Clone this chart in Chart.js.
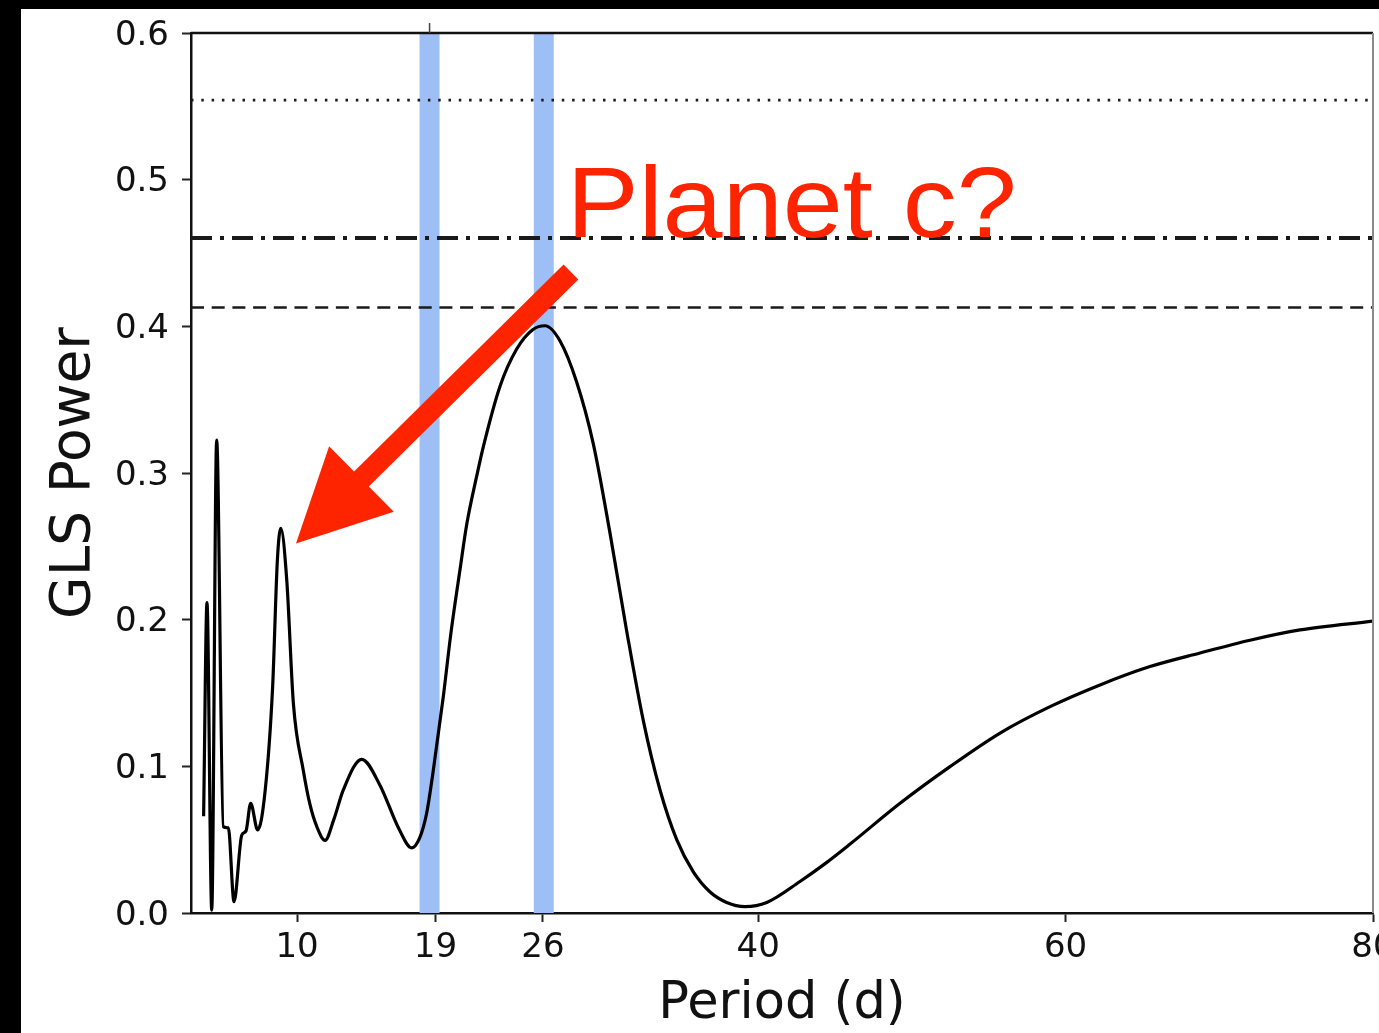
<!DOCTYPE html>
<html><head><meta charset="utf-8">
<script src="https://cdn.jsdelivr.net/npm/chart.js@4.4.1/dist/chart.umd.min.js"></script>
<style>
html,body{margin:0;padding:0;background:#000;overflow:hidden;width:1379px;height:1033px;}
#frame{position:absolute;left:21px;top:9px;width:1400px;height:1024px;background:#fff;}
canvas{display:block;}
</style></head><body>
<div id="frame"><canvas id="c" width="1400" height="1024"></canvas></div>
<script>
// ---- data ----
const periods = [3.92,4.14,4.45,4.77,5.20,5.53,5.90,6.40,6.68,6.98,7.44,7.93,8.41,8.72,8.94,9.33,9.76,10.41,10.84,11.28,11.82,12.4,13.01,14.21,15.40,16.6,17.46,17.97,18.43,18.86,19.52,20.0,20.6,21.04,21.69,22.12,23.20,24.29,25.37,26.13,27.11,28.19,29.27,30.36,31.45,32.53,33.61,34.70,35.78,36.87,37.95,39.14,40.56,42.72,44.4,45.98,49.23,52.48,55.74,58.99,62.24,65.49,68.75,72.0,75.25,80.0];
const glsPower = [0.066,0.2116,0.002,0.3225,0.0589,0.058,0.0077,0.053,0.056,0.0748,0.0566,0.0839,0.154,0.2407,0.2623,0.227,0.143,0.097,0.074,0.059,0.0495,0.064,0.0839,0.1048,0.087,0.058,0.0444,0.051,0.068,0.097,0.148,0.19,0.234,0.265,0.298,0.318,0.359,0.3845,0.398,0.4004,0.390,0.362,0.320,0.259,0.192,0.131,0.084,0.050,0.028,0.0143,0.0072,0.0044,0.0072,0.0215,0.034,0.047,0.0748,0.0998,0.1227,0.1407,0.1555,0.168,0.1773,0.186,0.193,0.199];
const xTickValues = [10,19,26,40,60,80];
const yTickValues = [0,0.1,0.2,0.3,0.4,0.5,0.6];
const fapLevels = [0.5543,0.4602,0.4129];        // dotted, dash-dot, dashed
const bandCenters = [18.62,26.05];
const bandHalfWidth = 0.65;
const annotationText = 'Planet c?';
const annotationAnchor = [27.54,0.4611];        // left edge / baseline
const arrowTail = [27.82,0.437];
const arrowTip = [9.93,0.2519];

const X_MIN = 3.1, X_MAX = 80;
const RED = 'rgb(255,36,0)';

const fapStyles = [
  {dash:[2.5,7.8], width:2.8},
  {dash:[21,8,4,8], width:4},
  {dash:[13,7.7], width:2.5}
];

const datasets = [{
  data: periods.map((p,i)=>({x:p,y:glsPower[i]})),
  borderColor:'#000', borderWidth:3.2, pointRadius:0, showLine:true,
  cubicInterpolationMode:'monotone', order:1
}];
fapLevels.forEach((lv,i)=>{
  datasets.push({
    data:[{x:X_MIN,y:lv},{x:X_MAX,y:lv}],
    borderColor:'#1a1a1a', borderWidth:fapStyles[i].width, borderDash:fapStyles[i].dash,
    pointRadius:0, showLine:true, order:2
  });
});

const overlay = {
  id:'overlay',
  beforeDatasetsDraw(chart){
    const {ctx, chartArea:a, scales:{x}} = chart;
    ctx.save();
    ctx.fillStyle = 'rgb(157,191,246)';
    bandCenters.forEach(c=>{
      const l = x.getPixelForValue(c-bandHalfWidth), r = x.getPixelForValue(c+bandHalfWidth);
      ctx.fillRect(l, a.top, r-l, a.bottom-a.top);
    });
    ctx.restore();
  },
  afterDraw(chart){
    const {ctx, chartArea:a, scales:{x,y}} = chart;
    ctx.save();
    ctx.strokeStyle = '#111'; ctx.lineWidth = 2.5;
    ctx.beginPath(); ctx.moveTo(a.left, a.top); ctx.lineTo(a.right, a.top); ctx.stroke();
    ctx.strokeStyle = '#8a8a8a'; ctx.lineWidth = 2;
    ctx.beginPath(); ctx.moveTo(a.right, a.top); ctx.lineTo(a.right, a.bottom); ctx.stroke();
    ctx.strokeStyle = '#444'; ctx.lineWidth = 1.5;
    const tx = x.getPixelForValue(bandCenters[0]);
    ctx.beginPath(); ctx.moveTo(tx, a.top); ctx.lineTo(tx, a.top-10); ctx.stroke();

    const tX = x.getPixelForValue(arrowTip[0]), tY = y.getPixelForValue(arrowTip[1]);
    const sX = x.getPixelForValue(arrowTail[0]), sY = y.getPixelForValue(arrowTail[1]);
    const len = Math.hypot(sX-tX, sY-tY);
    const ux = (sX-tX)/len, uy = (sY-tY)/len;
    const nx = -uy, ny = ux;
    const headLen = 92, headHalf = 46, shaftHalf = 10.5;
    const bX = tX + ux*headLen, bY = tY + uy*headLen;
    ctx.fillStyle = RED;
    ctx.beginPath();
    ctx.moveTo(tX, tY);
    ctx.lineTo(bX + nx*headHalf, bY + ny*headHalf);
    ctx.lineTo(bX + nx*shaftHalf, bY + ny*shaftHalf);
    ctx.lineTo(sX + nx*shaftHalf, sY + ny*shaftHalf);
    ctx.lineTo(sX - nx*shaftHalf, sY - ny*shaftHalf);
    ctx.lineTo(bX - nx*shaftHalf, bY - ny*shaftHalf);
    ctx.lineTo(bX - nx*headHalf, bY - ny*headHalf);
    ctx.closePath();
    ctx.fill();

    const ax = x.getPixelForValue(annotationAnchor[0]), ay = y.getPixelForValue(annotationAnchor[1]);
    ctx.font = '100px "Liberation Sans", Arial, sans-serif';
    ctx.textBaseline = 'alphabetic'; ctx.textAlign = 'left';
    const w = ctx.measureText(annotationText).width;
    const target = 450;
    ctx.translate(ax, ay);
    ctx.scale(target/w, 1);
    ctx.fillText(annotationText, 0, 0);
    ctx.restore();
  }
};

new Chart(document.getElementById('c'), {
  type:'scatter',
  data:{datasets},
  plugins:[overlay],
  options:{
    responsive:false, animation:false,
    layout:{padding:{left:0,top:24,right:48,bottom:0}},
    plugins:{legend:{display:false}, tooltip:{enabled:false}},
    scales:{
      x:{
        type:'linear', min:X_MIN, max:X_MAX,
        afterBuildTicks:s=>{ s.ticks = xTickValues.map(v=>({value:v})); },
        afterFit:s=>{ s.height = 120; s.paddingLeft = 0; s.paddingRight = 0; },
        ticks:{autoSkip:false, maxRotation:0, font:{family:'DejaVu Sans', size:34}, color:'#111', padding:6, callback:v=>String(v)},
        grid:{drawOnChartArea:false, drawTicks:true, tickLength:9, tickWidth:2, tickColor:'#222'},
        border:{display:true, color:'#111', width:2.5},
        title:{display:true, text:'Period (d)', font:{family:'DejaVu Sans', size:51, lineHeight:1.1}, color:'#111', padding:{top:0,bottom:0}}
      },
      y:{
        type:'linear', min:0, max:0.6,
        afterBuildTicks:s=>{ s.ticks = yTickValues.map(v=>({value:v})); },
        afterFit:s=>{ s.width = 170; s.paddingTop = 0; s.paddingBottom = 0; },
        ticks:{font:{family:'DejaVu Sans', size:34}, color:'#111', padding:13, labelOffset:3, callback:v=>Number(v).toFixed(1)},
        grid:{drawOnChartArea:false, drawTicks:true, tickLength:9, tickWidth:2, tickColor:'#222'},
        border:{display:true, color:'#111', width:2.5},
        title:{display:true, text:'GLS Power', font:{family:'DejaVu Sans', size:55}, color:'#111', padding:{top:21,bottom:0}}
      }
    }
  }
});
</script>
</body></html>
